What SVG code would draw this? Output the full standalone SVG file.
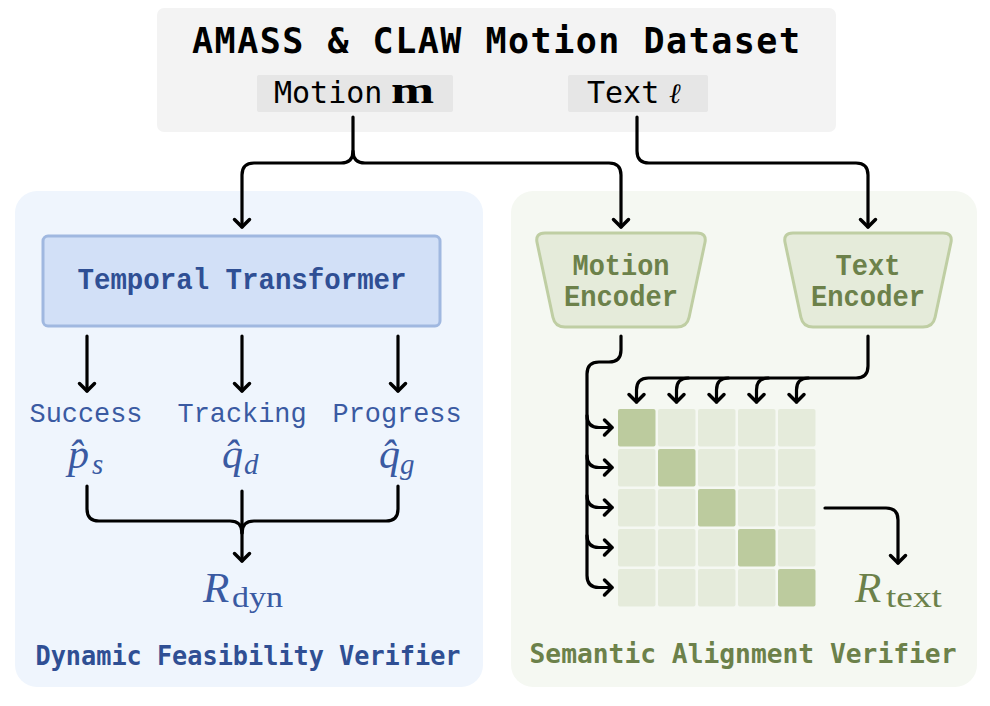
<svg xmlns="http://www.w3.org/2000/svg" width="990" height="706" viewBox="0 0 990 706">
<defs>
<style>
.conn{fill:none;stroke:#000;stroke-width:3.2;stroke-linecap:round;stroke-linejoin:round}
.arr{marker-end:url(#ah)}
.mono{font-family:"Liberation Mono","Courier New",monospace}
.smono{font-family:"DejaVu Sans Mono","Liberation Mono",monospace}
.math{font-family:"Liberation Serif","Times New Roman",serif}
.blue{fill:#2f4f94}
.lblue{fill:#3a5aa2}
.green{fill:#6c814a}
.cell{fill:#e5ebdb}
.diag{fill:#bccb9e}
</style>
<marker id="ah" markerUnits="userSpaceOnUse" markerWidth="20" markerHeight="20" viewBox="-10 -10 20 20" refX="0" refY="0" orient="auto" overflow="visible">
<path d="M-7.5,-7.5 L0,0 L-7.5,7.5" fill="none" stroke="#000" stroke-width="3.5" stroke-linecap="round" stroke-linejoin="round"/>
</marker>
</defs>
<rect width="990" height="706" fill="#ffffff"/>

<g id="dataset">
<rect x="157" y="8" width="679" height="124" rx="7" fill="#f3f3f3"/>
<text x="192" y="53" class="smono" font-weight="bold" font-size="35" textLength="608" fill="#000">AMASS &amp; CLAW Motion Dataset</text>
</g>
<g id="motion-input">
<rect x="257" y="75" width="196" height="37" rx="2" fill="#e6e6e6"/>
<text x="274" y="103" class="smono" font-size="30" fill="#000">Motion</text>
<text transform="translate(391,103) scale(1.4,1)" class="math" font-weight="bold" font-size="37" fill="#000">m</text>
</g>
<g id="text-input">
<rect x="568" y="75" width="140" height="37" rx="2" fill="#e6e6e6"/>
<text x="587" y="103" class="smono" font-size="30" fill="#000">Text</text>
<text x="669" y="103" font-family="'DejaVu Serif','Liberation Serif',serif" font-style="italic" font-size="28" fill="#000">ℓ</text>
</g>

<g id="dynamic-verifier">
<rect x="15" y="191" width="468" height="496" rx="22" fill="#eff5fd"/>
<text x="248" y="665" class="smono blue" font-weight="bold" font-size="27" text-anchor="middle" textLength="425" lengthAdjust="spacingAndGlyphs">Dynamic Feasibility Verifier</text>
</g>
<g id="semantic-verifier">
<rect x="511" y="191" width="466" height="496" rx="22" fill="#f5f8f2"/>
<text x="743" y="663" class="smono green" font-weight="bold" font-size="27" text-anchor="middle" textLength="427" lengthAdjust="spacingAndGlyphs">Semantic Alignment Verifier</text>
</g>

<g id="temporal-transformer">
<rect x="43" y="236" width="397" height="90" rx="5" fill="#d2e0f7" stroke="#a0b8e0" stroke-width="3"/>
<text x="242" y="289" class="mono blue" font-weight="bold" font-size="30" text-anchor="middle" textLength="329" lengthAdjust="spacingAndGlyphs">Temporal Transformer</text>
</g>

<g id="success">
<text x="86" y="422" class="mono lblue" font-size="28" text-anchor="middle" textLength="113" lengthAdjust="spacingAndGlyphs">Success</text>
<text class="math lblue"><tspan x="68" y="468" font-style="italic" font-size="42">p̂</tspan><tspan x="92" y="474" font-style="italic" font-size="29">s</tspan></text>
</g>
<g id="tracking">
<text x="242" y="422" class="mono lblue" font-size="28" text-anchor="middle" textLength="129" lengthAdjust="spacingAndGlyphs">Tracking</text>
<text class="math lblue"><tspan x="222" y="468" font-style="italic" font-size="42">q̂</tspan><tspan x="244" y="474" font-style="italic" font-size="29">d</tspan></text>
</g>
<g id="progress">
<text x="397" y="422" class="mono lblue" font-size="28" text-anchor="middle" textLength="129" lengthAdjust="spacingAndGlyphs">Progress</text>
<text class="math lblue"><tspan x="379" y="468" font-style="italic" font-size="42">q̂</tspan><tspan x="400" y="474" font-style="italic" font-size="29">g</tspan></text>
</g>
<g id="r-dyn">
<text class="math lblue"><tspan x="203" y="602" font-style="italic" font-size="43">R</tspan><tspan x="232" y="607" font-size="30" textLength="51" lengthAdjust="spacingAndGlyphs">dyn</tspan></text>
</g>

<g id="motion-encoder">
<path d="M545,233 H697 Q707,233 704.9,242.8 L689.1,317.2 Q687,327 677,327 H565 Q555,327 552.9,317.2 L537.1,242.8 Q535,233 545,233 Z" fill="#e5ebda" stroke="#bfcea3" stroke-width="3"/>
<text x="621" y="275" class="mono green" font-weight="bold" font-size="29" text-anchor="middle" textLength="97" lengthAdjust="spacingAndGlyphs">Motion</text>
<text x="621" y="306" class="mono green" font-weight="bold" font-size="29" text-anchor="middle" textLength="114" lengthAdjust="spacingAndGlyphs">Encoder</text>
</g>
<g id="text-encoder">
<path d="M793,233 H943 Q953,233 950.9,242.8 L935.1,317.2 Q933,327 923,327 H813 Q803,327 800.9,317.2 L785.1,242.8 Q783,233 793,233 Z" fill="#e5ebda" stroke="#bfcea3" stroke-width="3"/>
<text x="868" y="275" class="mono green" font-weight="bold" font-size="29" text-anchor="middle" textLength="65" lengthAdjust="spacingAndGlyphs">Text</text>
<text x="868" y="306" class="mono green" font-weight="bold" font-size="29" text-anchor="middle" textLength="114" lengthAdjust="spacingAndGlyphs">Encoder</text>
</g>

<g id="similarity-matrix">
<rect class="diag" x="618" y="409" width="37.5" height="37.5" rx="2"/>
<rect class="cell" x="658" y="409" width="37.5" height="37.5" rx="2"/>
<rect class="cell" x="698" y="409" width="37.5" height="37.5" rx="2"/>
<rect class="cell" x="738" y="409" width="37.5" height="37.5" rx="2"/>
<rect class="cell" x="778" y="409" width="37.5" height="37.5" rx="2"/>
<rect class="cell" x="618" y="449" width="37.5" height="37.5" rx="2"/>
<rect class="diag" x="658" y="449" width="37.5" height="37.5" rx="2"/>
<rect class="cell" x="698" y="449" width="37.5" height="37.5" rx="2"/>
<rect class="cell" x="738" y="449" width="37.5" height="37.5" rx="2"/>
<rect class="cell" x="778" y="449" width="37.5" height="37.5" rx="2"/>
<rect class="cell" x="618" y="489" width="37.5" height="37.5" rx="2"/>
<rect class="cell" x="658" y="489" width="37.5" height="37.5" rx="2"/>
<rect class="diag" x="698" y="489" width="37.5" height="37.5" rx="2"/>
<rect class="cell" x="738" y="489" width="37.5" height="37.5" rx="2"/>
<rect class="cell" x="778" y="489" width="37.5" height="37.5" rx="2"/>
<rect class="cell" x="618" y="529" width="37.5" height="37.5" rx="2"/>
<rect class="cell" x="658" y="529" width="37.5" height="37.5" rx="2"/>
<rect class="cell" x="698" y="529" width="37.5" height="37.5" rx="2"/>
<rect class="diag" x="738" y="529" width="37.5" height="37.5" rx="2"/>
<rect class="cell" x="778" y="529" width="37.5" height="37.5" rx="2"/>
<rect class="cell" x="618" y="569" width="37.5" height="37.5" rx="2"/>
<rect class="cell" x="658" y="569" width="37.5" height="37.5" rx="2"/>
<rect class="cell" x="698" y="569" width="37.5" height="37.5" rx="2"/>
<rect class="cell" x="738" y="569" width="37.5" height="37.5" rx="2"/>
<rect class="diag" x="778" y="569" width="37.5" height="37.5" rx="2"/>
</g>
<g id="r-text">
<text class="math green"><tspan x="855" y="602" font-style="italic" font-size="43">R</tspan><tspan x="886" y="607" font-size="30" textLength="56" lengthAdjust="spacingAndGlyphs">text</tspan></text>
</g>

<g id="connectors">
<path class="conn arr" d="M353,117 V151 Q353,163 341,163 H254 Q242,163 242,175 V227"/>
<path class="conn arr" d="M353,151 Q353,163 365,163 H609 Q621,163 621,175 V227"/>
<path class="conn arr" d="M637,117 V151 Q637,163 649,163 H856 Q868,163 868,175 V227"/>
<path class="conn arr" d="M87,336 V391"/>
<path class="conn arr" d="M242,336 V391"/>
<path class="conn arr" d="M398,336 V391"/>
<path class="conn" d="M87,486 V509 Q87,521 99,521 H230 Q242,521 242,533"/>
<path class="conn" d="M398,486 V509 Q398,521 386,521 H254 Q242,521 242,533"/>
<path class="conn arr" d="M242,491 V561"/>
<path class="conn arr" d="M621,336 V350 Q621,362 609,362 H599 Q587,362 587,374 V575.5 Q587,587.5 599,587.5 H612"/>
<path class="conn arr" d="M587,415.5 Q587,427.5 599,427.5 H612"/>
<path class="conn arr" d="M587,455.5 Q587,467.5 599,467.5 H612"/>
<path class="conn arr" d="M587,495.5 Q587,507.5 599,507.5 H612"/>
<path class="conn arr" d="M587,535.5 Q587,547.5 599,547.5 H612"/>
<path class="conn arr" d="M868,336 V366 Q868,378 856,378 H648.5 Q636.5,378 636.5,390 V402"/>
<path class="conn arr" d="M688.5,378 Q676.5,378 676.5,390 V402"/>
<path class="conn arr" d="M728.5,378 Q716.5,378 716.5,390 V402"/>
<path class="conn arr" d="M768.5,378 Q756.5,378 756.5,390 V402"/>
<path class="conn arr" d="M808.5,378 Q796.5,378 796.5,390 V402"/>
<path class="conn arr" d="M825,508 H886 Q898,508 898,520 V563"/>
</g>
</svg>
